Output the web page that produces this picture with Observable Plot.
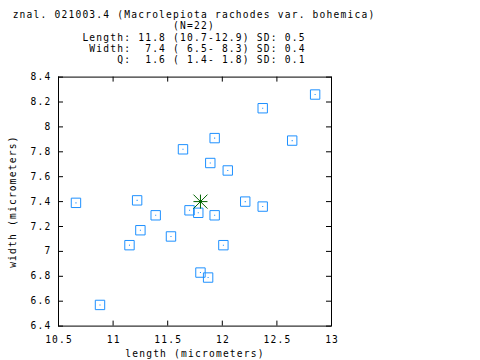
<!DOCTYPE html>
<html><head><meta charset="utf-8">
<script src="https://cdn.jsdelivr.net/npm/d3@7"></script>
<script src="https://cdn.jsdelivr.net/npm/@observablehq/plot@0.6"></script>
<style>
body{margin:0;background:#fff;}
#chart svg{display:block;}
#chart svg text{letter-spacing:1.2px;}
.mono{font-family:"DejaVu Sans Mono",monospace;font-size:9.6px;}
</style></head><body>
<div id="chart"></div>
<script>
const titleLines = [
  "znal. 021003.4 (Macrolepiota rachodes var. bohemica)",
  "(N=22)",
  "Length: 11.8 (10.7-12.9) SD: 0.5",
  " Width:  7.4 ( 6.5- 8.3) SD: 0.4",
  "     Q:  1.6 ( 1.4- 1.8) SD: 0.1"
];
const lengths = [10.66,10.88,11.15,11.22,11.25,11.39,11.53,11.64,11.70,11.78,11.80,11.87,11.89,11.93,11.93,12.01,12.05,12.21,12.37,12.37,12.64,12.85];
const widths  = [7.39,6.57,7.05,7.41,7.17,7.29,7.12,7.82,7.33,7.31,6.83,6.79,7.71,7.91,7.29,7.05,7.65,7.40,8.15,7.36,7.89,8.26];
const meanLength = [11.8];
const meanWidth = [7.4];
const xTicks = [10.5,11,11.5,12,12.5,13];
const yTicks = [6.4,6.6,6.8,7,7.2,7.4,7.6,7.8,8,8.2,8.4];
const xLabel = "length (micrometers)";
const yLabel = "width (micrometers)";

const FONT = "DejaVu Sans Mono, monospace";
const FS = 9.6;
const blue = "#1e90ff";
const green = "#006400";

// Title block (above the plot SVG)
const tsvg = d3.create("svg").attr("width", 480).attr("height", 66);
const baselines = [18.1, 29.4, 40.7, 52.0, 63.3];
titleLines.forEach((t, i) => {
  tsvg.append("text").attr("class", "mono").attr("x", 194).attr("y", baselines[i])
    .attr("text-anchor", "middle").style("white-space", "pre").attr("fill", "#000").text(t);
});
document.getElementById("chart").appendChild(tsvg.node());

const points = lengths.map((l, i) => ({length: l, width: widths[i]}));
const mean = meanLength.map((l, i) => ({length: l, width: meanWidth[i]}));

const star = {
  draw(context, size) {
    const h = Math.sqrt(size / Math.PI);
    context.moveTo(-h, 0); context.lineTo(h, 0);
    context.moveTo(0, -h); context.lineTo(0, h);
    context.moveTo(-h, -h); context.lineTo(h, h);
    context.moveTo(-h, h); context.lineTo(h, -h);
  }
};

const innerW = 480 - 58 - 149;
const innerH = 294 - 10.6 - 34.4;
const tl = 5;

const plot = Plot.plot({
  width: 480,
  height: 294,
  marginLeft: 58,
  marginRight: 149,
  marginTop: 10.6,
  marginBottom: 34.4,
  style: {fontFamily: FONT, fontSize: FS + "px", background: "#fff", color: "#000"},
  x: {domain: [10.5, 13], axis: null},
  y: {domain: [6.4, 8.4], axis: null},
  marks: [
    Plot.frame({stroke: "#000", strokeWidth: 1}),
    Plot.ruleX(xTicks, {x: d => d, insetTop: innerH - tl, stroke: "#000"}),
    Plot.ruleX(xTicks, {x: d => d, insetBottom: innerH - tl, stroke: "#000"}),
    Plot.ruleY(yTicks, {y: d => d, insetRight: innerW - tl, stroke: "#000"}),
    Plot.ruleY(yTicks, {y: d => d, insetLeft: innerW - tl, stroke: "#000"}),
    Plot.axisX(xTicks, {tickSize: 0, tickPadding: 10, tickFormat: d => String(d), label: null, fontFamily: FONT, fontSize: FS, dx: 0.6}),
    Plot.axisY(yTicks, {tickSize: 0, tickPadding: 7, tickFormat: d => String(d), label: null, fontFamily: FONT, fontSize: FS}),
    Plot.text([xLabel], {frameAnchor: "bottom", lineAnchor: "middle", textAnchor: "middle", dy: 27.5, text: d => d, fontFamily: FONT, fontSize: FS, fill: "#000"}),
    Plot.text([yLabel], {frameAnchor: "left", textAnchor: "middle", lineAnchor: "middle", dx: -46, dy: 0, rotate: -90, text: d => d, fontFamily: FONT, fontSize: FS, fill: "#000"}),
    Plot.dot(points, {x: "length", y: "width", symbol: "square", r: 5.3, fill: "none", stroke: blue, strokeWidth: 1}),
    Plot.dot(points, {x: "length", y: "width", symbol: "square", r: 0.6, fill: blue, stroke: "none"}),
    Plot.dot(mean, {x: "length", y: "width", symbol: star, r: 7, fill: "none", stroke: green, strokeWidth: 1}),
    Plot.dot(mean, {x: "length", y: "width", r: 1.5, fill: green, stroke: "none"})
  ]
});
document.getElementById("chart").appendChild(plot);
</script>
</body></html>
